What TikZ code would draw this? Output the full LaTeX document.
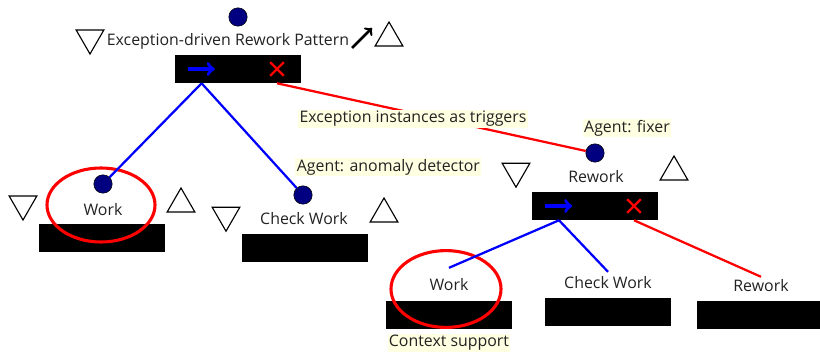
\documentclass[tikz,border=0pt]{standalone}
\usepackage{fontspec}
\setmainfont{Open Sans}
\usepackage{xcolor}
\usepackage{tikz}
\usetikzlibrary{shapes.geometric}
\usetikzlibrary{arrows}

\definecolor{navydot}{RGB}{0,0,128}
\definecolor{notebg}{RGB}{255,255,225}
\definecolor{textgray}{RGB}{34,34,34}

\begin{document}
\begin{tikzpicture}[
        font=\fontsize{11.3}{13}\selectfont,
        lbl/.style={text=textgray, inner sep=2pt},
        dot/.style={circle, draw=black, fill=navydot, inner sep=0pt, minimum size=0.46cm},
        downtri/.style={regular polygon, regular polygon sides=3, shape border rotate=180,
            draw, line width=0.8pt, inner sep=0pt, minimum size=0.8cm},
        uptri/.style={regular polygon, regular polygon sides=3,
            draw, line width=0.8pt, inner sep=0pt, minimum size=0.8cm},
        blackbar/.style={rectangle, fill=black, inner sep=0pt, minimum width=3.15cm, minimum height=0.7cm},
        note/.style={lbl, fill=notebg, inner sep=1pt},
        seqline/.style={blue, line width=1.6pt},
        seqmark/.style={blue, line width=2.4pt, ->},
        xorline/.style={red, line width=1.6pt},
        focus/.style={red, line width=2.2pt}
    ]
        \useasboundingbox (0, 0) rectangle (20.5, 8.8);

        % top pattern
        \node[dot] (dottop) at (5.95, 8.375) {};
        \node[lbl] (title) at (5.7, 7.775) {Exception-driven Rework Pattern};
        \node[downtri] (titledown) at (2.25, 7.85) {};
        \node[uptri] (titleup) at (9.725, 7.85) {};
        \coordinate (linkfrom) at (8.8, 7.6);
        \coordinate (linkto) at (9.3, 8.1);
        \draw[line width=1.8pt, ->] (linkfrom) -- (linkto);
        \node[blackbar] (topbar) at (5.96, 7.075) {};
        \coordinate (seqA) at (5.04, 7.075);
        \coordinate (xorA) at (6.925, 7.075);
        \draw[seqmark] (seqA) +(-0.35, 0) -- +(0.33, 0);
        \draw[xorline] (xorA) +(-0.17, -0.17) -- +(0.17, 0.17)
            (xorA) +(-0.17, 0.17) -- +(0.17, -0.17);

        % left children
        \node[dot] (dotwork) at (2.575, 4.2) {};
        \node[lbl] (work) at (2.575, 3.55) {Work};
        \node[downtri] (workdown) at (0.575, 3.7) {};
        \node[uptri] (workup) at (4.525, 3.7) {};
        \node[blackbar] (workbar) at (2.55, 2.8625) {};
        \draw[focus] (2.525, 3.675) ellipse (1.35 and 0.925);

        \node[dot] (dotcheck) at (7.575, 3.925) {};
        \node[lbl] (check) at (7.6, 3.325) {Check Work};
        \node[downtri] (checkdown) at (5.65, 3.42) {};
        \node[uptri] (checkup) at (9.6, 3.45) {};
        \node[blackbar] (checkbar) at (7.625, 2.6125) {};

        \draw[seqline] (seqA |- topbar.south) -- (dotwork);
        \draw[seqline] (seqA |- topbar.south) -- (dotcheck);

        % rework sub-pattern
        \node[dot] (dotrework) at (14.875, 4.975) {};
        \draw[xorline] (xorA |- topbar.south) -- (dotrework);
        \node[note] (trigger) at (10.325, 5.825) {Exception instances as triggers};
        \node[note] (agentA) at (9.71, 4.625) {Agent: anomaly detector};
        \node[note] (agentB) at (15.675, 5.6) {Agent: fixer};

        \node[lbl] (rework) at (14.9, 4.375) {Rework};
        \node[downtri] (reworkdown) at (12.9, 4.52) {};
        \node[uptri] (reworkup) at (16.85, 4.5) {};
        \node[blackbar] (reworkbar) at (14.875, 3.65) {};
        \coordinate (seqB) at (13.975, 3.65);
        \coordinate (xorB) at (15.85, 3.65);
        \draw[seqmark] (seqB) +(-0.35, 0) -- +(0.33, 0);
        \draw[xorline] (xorB) +(-0.17, -0.17) -- +(0.17, 0.17)
            (xorB) +(-0.17, 0.17) -- +(0.17, -0.17);

        \node[lbl] (workB) at (11.225, 1.675) {Work};
        \node[blackbar] (workBbar) at (11.2125, 0.9375) {};
        \draw[focus] (11.15, 1.575) ellipse (1.375 and 0.96);
        \node[note] (context) at (11.225, 0.225) {Context support};

        \node[lbl] (checkB) at (15.2, 1.725) {Check Work};
        \node[blackbar] (checkBbar) at (15.1875, 1.0) {};

        \node[lbl] (reworkB) at (19.025, 1.65) {Rework};
        \node[blackbar] (reworkBbar) at (19.0, 0.9375) {};

        \draw[seqline] (seqB |- reworkbar.south) -- ([yshift=0.2cm]workB.north);
        \draw[seqline] (seqB |- reworkbar.south) -- ([yshift=0.05cm]checkB.north);
        \draw[xorline] (xorB |- reworkbar.south) -- (reworkB.north);
\end{tikzpicture}
\end{document}
